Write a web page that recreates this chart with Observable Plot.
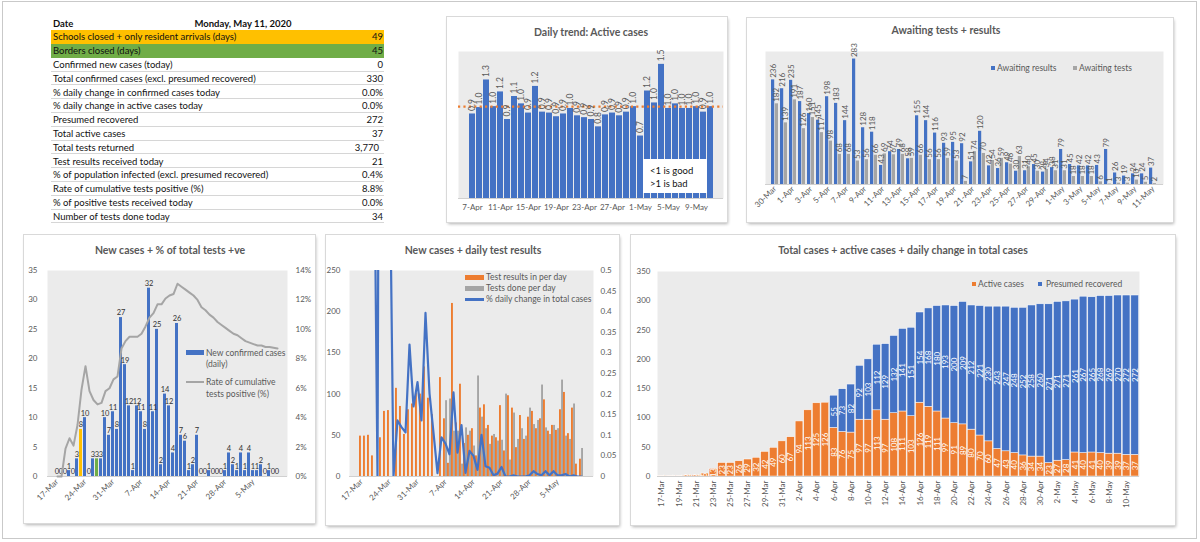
<!DOCTYPE html>
<html>
<head>
<meta charset="utf-8">
<script src="https://cdn.jsdelivr.net/npm/d3@7"></script>
<script src="https://cdn.jsdelivr.net/npm/@observablehq/plot@0.6"></script>
<style>
  html, body { margin: 0; padding: 0; }
  body { width: 1200px; height: 542px; position: relative; overflow: hidden; background: #fff;
         font-family: Lato, "Liberation Sans", sans-serif; color: #595959; }
  .sheet { position: absolute; left: 2px; top: 1px; width: 1195px; height: 538px; box-sizing: border-box; border: 1px solid #c9c9c9; }
  .panel { position: absolute; background: #fff; box-shadow: 0 0 0 1px #d9d9d9, 1px 2px 3px rgba(0,0,0,0.3); }
  .panel svg { position: absolute; left: 0; top: 0; }
  .title { position: absolute; font-weight: 700; font-size: 10.5px; color: #595959; white-space: nowrap; transform: translateX(-50%); line-height: 14px; }
  .legend { position: absolute; font-size: 8.5px; color: #595959; white-space: nowrap; line-height: 11px; }
  .sw { position: absolute; }
  .row { position: absolute; left: 51px; width: 333px; height: 13.8px; line-height: 13.8px; font-size: 9.5px; color: #111; box-sizing: border-box; }
  .row .lab { position: absolute; left: 2px; }
  .row .val { position: absolute; right: 1px; }
  .note { position: absolute; background: #fff; font-size: 9.5px; color: #111; line-height: 13px; padding: 5px 0 0 7px; box-sizing: border-box; }
</style>
</head>
<body>
<div class="sheet"></div>
<script>
// ---------- Data ----------
const days = ["17-Mar","18-Mar","19-Mar","20-Mar","21-Mar","22-Mar","23-Mar","24-Mar","25-Mar","26-Mar","27-Mar","28-Mar","29-Mar","30-Mar","31-Mar",
  "1-Apr","2-Apr","3-Apr","4-Apr","5-Apr","6-Apr","7-Apr","8-Apr","9-Apr","10-Apr","11-Apr","12-Apr","13-Apr","14-Apr","15-Apr",
  "16-Apr","17-Apr","18-Apr","19-Apr","20-Apr","21-Apr","22-Apr","23-Apr","24-Apr","25-Apr","26-Apr","27-Apr","28-Apr","29-Apr","30-Apr",
  "1-May","2-May","3-May","4-May","5-May","6-May","7-May","8-May","9-May","10-May","11-May"];

// New confirmed cases per day
const newCases = [0,0,0,1,0,3,8,10,0,3,3,3,10,7,11,
  8,27,19,12,1,12,11,8,32,11,25,2,14,12,4,26,7,6,1,2,7,0,0,1,0,0,0,1,4,2,
  1,4,1,4,1,1,2,0,1,0,0];
// Rate of cumulative tests positive
const positiveRate = [0,0,0.019,0.026,0.021,0.035,0.059,0.075,0.058,0.052,0.049,0.050,0.058,0.060,0.066,
  0.068,0.087,0.092,0.095,0.095,0.095,0.097,0.102,0.108,0.111,0.117,0.117,0.121,0.123,0.124,
  0.131,0.129,0.127,0.125,0.123,0.120,0.115,0.113,0.110,0.108,0.105,0.103,0.101,0.099,0.097,
  0.096,0.094,0.092,0.091,0.090,0.089,0.089,0.088,0.088,0.0875,0.087];
// Test results received per day
const testResultsIn = [49,49,50,25,0,47,79,80,0,107,85,51,81,88,101,
  100,133,95,75,0,120,70,16,210,65,112,40,50,58,25,83,87,62,49,47,86,31,98,83,35,74,45,72,79,58,
  70,93,55,62,56,81,102,52,83,15,21];
// Tests done per day
const testsDone = [0,0,0,0,0,0,0,0,0,0,0,0,0,0,0,
  0,0,0,0,0,0,92,94,55,55,15,59,55,37,122,72,58,39,51,43,44,100,20,77,45,58,49,83,63,68,
  111,59,51,62,58,117,49,45,88,0,34];
// Daily change in total cases (fraction)
const dailyChange = [null,null,null,1.0,0,3.0,2.0,0.83,0,0.136,0.12,0.107,0.32,0.17,0.229,
  0.136,0.397,0.202,0.106,0.008,0.095,0.08,0.054,0.204,0.058,0.125,0.009,0.062,0.05,0.016,
  0.101,0.025,0.021,0.003,0.007,0.023,0,0,0.003,0,0,0,0.003,0.013,0.006,
  0.003,0.013,0.003,0.013,0.003,0.003,0.006,0,0.003,0,0];
// Active cases and presumed recovered
const activeCases = [1,1,1,2,2,5,13,23,23,26,29,32,42,49,60,
  67,94,113,125,126,83,76,75,97,97,113,97,108,111,103,126,119,111,99,91,89,80,70,60,47,43,40,36,34,34,
  23,27,28,41,40,41,40,39,39,37,37];
const presumedRecovered = [0,0,0,0,0,0,0,0,0,0,0,0,0,0,0,
  0,0,0,0,0,55,73,82,92,103,112,129,132,141,151,154,168,180,193,200,209,212,221,230,243,247,248,252,258,260,
  271,271,271,261,267,265,268,269,270,272,272];

// Awaiting tests + results (30-Mar .. 11-May)
const awaitingDays = days.slice(13);
const awaitingResults = [236,216,235,187,160,145,198,183,144,283,128,118,43,74,79,58,155,144,116,93,95,92,
  51,120,42,36,49,30,31,45,28,38,79,45,42,42,43,79,26,19,24,24,37];
const awaitingTests = [182,139,191,126,151,117,98,68,68,53,56,66,69,67,68,59,66,56,56,59,53,7,
  74,70,54,59,46,63,40,30,34,31,31,18,18,18,6,1,3,3,10,5,2];

// Daily trend of active cases (7-Apr .. 11-May)
const trendDays = days.slice(21);
const activeRatio = [0.92,0.99,1.29,1.00,1.16,0.86,1.11,1.03,0.93,1.22,0.94,0.93,0.89,0.92,0.98,0.90,0.88,0.86,
  0.78,0.91,0.93,0.90,0.94,1.00,0.68,1.17,1.04,1.46,0.98,1.03,0.98,0.98,1.00,0.94,1.00];

// Summary table
const reportDate = "Monday, May 11, 2020";
const summaryLabels = ["Schools closed + only resident arrivals (days)","Borders closed (days)","Confirmed new cases (today)",
  "Total confirmed cases (excl. presumed recovered)","% daily change in confirmed cases today","% daily change in active cases today",
  "Presumed recovered","Total active cases","Total tests returned","Test results received today",
  "% of population infected (excl. presumed recovered)","Rate of cumulative tests positive (%)",
  "% of positive tests received today","Number of tests done today"];
const summaryValues = ["49","45","0","330","0.0%","0.0%","272","37","3,770","21","0.4%","8.8%","0.0%","34"];
const summaryFills = ["#FFC000","#70AD47"];

// Measures: schools closed on 23-Mar, borders closed on 27-Mar
const measureColors = {"23-Mar": "#FFC000", "27-Mar": "#70AD47"};

// ---------- Style ----------
const BLUE = "#4472C4", ORANGE = "#ED7D31", GRAY = "#A5A5A5", PLOTBG = "#ebebeb";
const FONT = "Lato, 'Liberation Sans', sans-serif";
const svgStyle = {background: "transparent", fontFamily: FONT, fontSize: "8px", color: "#595959", overflow: "visible", maxWidth: "none"};

// ---------- Helpers ----------
function makePanel(left, top, w, h) {
  const el = document.createElement("div");
  el.className = "panel";
  Object.assign(el.style, {left: left + "px", top: top + "px", width: w + "px", height: h + "px"});
  document.body.appendChild(el);
  return el;
}
function addTitle(p, text, cx, cy) {
  const t = document.createElement("div");
  t.className = "title"; t.textContent = text;
  t.style.left = cx + "px"; t.style.top = (cy - 7) + "px";
  p.appendChild(t);
}
function addSwatch(p, x, y, w, h, color) {
  const s = document.createElement("div");
  s.className = "sw";
  Object.assign(s.style, {left: x + "px", top: y + "px", width: w + "px", height: h + "px", background: color});
  p.appendChild(s);
}
function addLegendText(p, x, cy, text) {
  const t = document.createElement("div");
  t.className = "legend"; t.textContent = text;
  t.style.left = x + "px"; t.style.top = (cy - 5.5) + "px";
  p.appendChild(t);
}
// band width of one category when the outer padding is half the inner padding
function bandWidth(plotWidth, n, pad) { return plotWidth / n * (1 - pad); }

// ---------- Summary table ----------
{
  const head = document.createElement("div");
  head.className = "row";
  head.style.top = "16.5px";
  head.style.fontWeight = "700";
  head.innerHTML = `<span class="lab">Date</span><span style="position:absolute;left:192px;transform:translateX(-50%)">${reportDate}</span>`;
  document.body.appendChild(head);
  summaryLabels.forEach((lab, i) => {
    const r = document.createElement("div");
    r.className = "row";
    r.style.top = (30.3 + i * 13.8) + "px";
    if (summaryFills[i]) r.style.background = summaryFills[i];
    else r.style.borderBottom = "1px solid #d6d6d6";
    const val = summaryValues[i];
    r.innerHTML = `<span class="lab"></span><span class="val"></span>`;
    r.querySelector(".lab").textContent = lab;
    const v = r.querySelector(".val");
    v.textContent = val;
    if (val.includes(",")) v.style.right = "5px";
    document.body.appendChild(r);
  });
}

// ---------- Daily trend: Active cases ----------
{
  const p = makePanel(447, 17, 280, 205);
  addTitle(p, "Daily trend: Active cases", 144, 15);
  const trend = trendDays.map((d, i) => ({day: d, ratio: activeRatio[i]}));
  p.appendChild(Plot.plot({
    width: 280, height: 205, marginLeft: 11, marginRight: 4, marginTop: 34, marginBottom: 24,
    style: svgStyle,
    x: {domain: trendDays, paddingInner: 0.2, paddingOuter: 0.1, ticks: trendDays.filter((d, i) => i % 4 === 0), tickSize: 0, tickPadding: 6, label: null},
    y: {domain: [0, 1.6], axis: null},
    marks: [
      Plot.frame({fill: PLOTBG, stroke: "none"}),
      Plot.barY(trend, {x: "day", y: "ratio", fill: BLUE}),
      Plot.ruleY([1], {stroke: ORANGE, strokeWidth: 2.4, strokeDasharray: "2.2,3.2"}),
      Plot.text(trend, {x: "day", y: "ratio", text: d => d3.format(".1f")(d.ratio), rotate: -90, textAnchor: "start", dy: -3, fill: "#595959", fontSize: 8.5}),
      Plot.ruleY([0], {stroke: "#d0d0d0"})
    ]
  }));
  const note = document.createElement("div");
  note.className = "note";
  Object.assign(note.style, {left: "196px", top: "142px", width: "64px", height: "34px"});
  note.innerHTML = "&lt;1 is good<br>&gt;1 is bad";
  p.appendChild(note);
}

// ---------- Awaiting tests + results ----------
{
  const p = makePanel(747, 18, 426, 204);
  addTitle(p, "Awaiting tests + results", 199, 12);
  const W = 426 - 18 - 10, pad = 0.18;
  const half = bandWidth(W, awaitingDays.length, pad) / 2;
  const awaiting = awaitingDays.map((d, i) => ({day: d, results: awaitingResults[i], tests: awaitingTests[i]}));
  p.appendChild(Plot.plot({
    width: 426, height: 204, marginLeft: 18, marginRight: 10, marginTop: 33, marginBottom: 38,
    style: svgStyle,
    x: {domain: awaitingDays, paddingInner: pad, paddingOuter: pad / 2, ticks: awaitingDays.filter((d, i) => i % 2 === 0), tickRotate: -45, tickSize: 0, tickPadding: 3, label: null},
    y: {domain: [0, 300], axis: null},
    marks: [
      Plot.frame({fill: PLOTBG, stroke: "none"}),
      Plot.barY(awaiting, {x: "day", y: "results", fill: BLUE, insetRight: half}),
      Plot.barY(awaiting, {x: "day", y: "tests", fill: GRAY, insetLeft: half}),
      Plot.text(awaiting, {x: "day", y: "results", text: "results", rotate: -90, textAnchor: "start", dx: -half / 2, dy: -2, fill: "#595959", fontSize: 8}),
      Plot.text(awaiting, {x: "day", y: "tests", text: "tests", rotate: -90, textAnchor: "start", dx: half / 2, dy: -2, fill: "#595959", fontSize: 8}),
      Plot.ruleY([0], {stroke: "#d0d0d0"})
    ]
  }));
  addSwatch(p, 244, 48, 4, 4, BLUE);
  addLegendText(p, 250, 50, "Awaiting results");
  addSwatch(p, 326, 48, 4, 4, GRAY);
  addLegendText(p, 332, 50, "Awaiting tests");
}

// ---------- New cases + % of total tests +ve ----------
{
  const p = makePanel(24, 235, 291, 288);
  addTitle(p, "New cases + % of total tests +ve", 146, 15);
  const daily = days.map((d, i) => ({day: d, v: newCases[i], rate: positiveRate[i], color: measureColors[d] || BLUE}));
  const dims = {width: 291, height: 288, marginLeft: 23, marginRight: 28, marginTop: 35, marginBottom: 47, style: svgStyle};
  const xOpts = {domain: days, paddingInner: 0.24, paddingOuter: 0.12, label: null};
  p.appendChild(Plot.plot({
    ...dims,
    x: {...xOpts, ticks: days.filter((d, i) => i % 7 === 0), tickRotate: -45, tickSize: 0, tickPadding: 4},
    y: {domain: [0, 35], ticks: [0, 5, 10, 15, 20, 25, 30, 35], tickSize: 0, tickPadding: 10, label: null},
    color: {type: "identity"},
    marks: [
      Plot.frame({fill: PLOTBG, stroke: "none"}),
      Plot.barY(daily, {x: "day", y: "v", fill: "color"}),
      Plot.text(daily, {x: "day", y: "v", text: d => String(d.v), dy: -4.5, fill: "#333", fontSize: 7.5}),
      Plot.ruleY([0], {stroke: "#d0d0d0"})
    ]
  }));
  p.appendChild(Plot.plot({
    ...dims,
    x: {...xOpts, axis: null},
    y: {domain: [0, 0.14], ticks: [0, 0.02, 0.04, 0.06, 0.08, 0.10, 0.12, 0.14], tickFormat: d3.format(".0%"), axis: "right", tickSize: 0, tickPadding: 8, label: null},
    marks: [
      Plot.line(daily, {x: "day", y: "rate", stroke: GRAY, strokeWidth: 2})
    ]
  }));
  addSwatch(p, 162, 115, 18, 5, BLUE);
  addLegendText(p, 182, 118, "New confirmed cases");
  addLegendText(p, 182, 129, "(daily)");
  addSwatch(p, 162, 146, 18, 2, GRAY);
  addLegendText(p, 182, 147, "Rate of cumulative");
  addLegendText(p, 182, 159, "tests positive (%)");
}

// ---------- New cases + daily test results ----------
{
  const p = makePanel(326, 235, 293, 290);
  addTitle(p, "New cases + daily test results", 147, 15);
  const W = 293 - 23 - 26, pad = 0.04;
  const half = bandWidth(W, days.length, pad) / 2;
  const tests = days.map((d, i) => ({day: d, results: testResultsIn[i], done: testsDone[i], change: dailyChange[i]}));
  const dims = {width: 293, height: 290, marginLeft: 23, marginRight: 26, marginTop: 35, marginBottom: 49, style: svgStyle};
  const xOpts = {domain: days, paddingInner: pad, paddingOuter: pad / 2, label: null};
  p.appendChild(Plot.plot({
    ...dims,
    x: {...xOpts, ticks: days.filter((d, i) => i % 7 === 0), tickRotate: -45, tickSize: 0, tickPadding: 4},
    y: {domain: [0, 250], ticks: [0, 50, 100, 150, 200, 250], tickSize: 0, tickPadding: 9, label: null},
    marks: [
      Plot.frame({fill: PLOTBG, stroke: "none"}),
      Plot.barY(tests, {x: "day", y: "results", fill: ORANGE, insetRight: half}),
      Plot.barY(tests, {x: "day", y: "done", fill: GRAY, insetLeft: half}),
      Plot.ruleY([0], {stroke: "#d0d0d0"})
    ]
  }));
  p.appendChild(Plot.plot({
    ...dims,
    x: {...xOpts, axis: null},
    y: {domain: [0, 0.5], ticks: [0, 0.05, 0.1, 0.15, 0.2, 0.25, 0.3, 0.35, 0.4, 0.45, 0.5], tickFormat: d => d === 0 ? "0" : String(+d.toFixed(2)), axis: "right", tickSize: 0, tickPadding: 7, label: null},
    marks: [
      Plot.line(tests, {x: "day", y: "change", stroke: BLUE, strokeWidth: 2.2, clip: true})
    ]
  }));
  addSwatch(p, 139, 40, 19, 4.5, ORANGE);
  addLegendText(p, 160, 42, "Test results in per day");
  addSwatch(p, 139, 51, 19, 4.5, GRAY);
  addLegendText(p, 160, 53, "Tests done per day");
  addSwatch(p, 139, 63, 19, 2.5, BLUE);
  addLegendText(p, 160, 64, "% daily change in total cases");
}

// ---------- Total cases + active cases ----------
{
  const p = makePanel(631, 235, 544, 290);
  addTitle(p, "Total cases + active cases + daily change in total cases", 272, 15);
  const totals = days.flatMap((d, i) => [
    {day: d, series: "Active cases", v: activeCases[i]},
    {day: d, series: "Presumed recovered", v: presumedRecovered[i]}
  ]);
  p.appendChild(Plot.plot({
    width: 544, height: 290, marginLeft: 26, marginRight: 36, marginTop: 36, marginBottom: 49,
    style: svgStyle,
    x: {domain: days, paddingInner: 0.1, paddingOuter: 0.05, ticks: days.filter((d, i) => i % 2 === 0), tickRotate: -90, tickSize: 0, tickPadding: 4, label: null},
    y: {domain: [0, 350], ticks: [0, 50, 100, 150, 200, 250, 300, 350], tickSize: 0, tickPadding: 7, label: null},
    color: {domain: ["Active cases", "Presumed recovered"], range: [ORANGE, BLUE]},
    marks: [
      Plot.frame({fill: PLOTBG, stroke: "none"}),
      Plot.barY(totals, {x: "day", y: "v", z: "series", fill: "series", stroke: "#fff", strokeWidth: 0.5}),
      Plot.text(totals, Plot.stackY({x: "day", y: "v", z: "series", text: d => String(d.v), filter: d => d.v > 0, rotate: -90, fill: "#fff", fontSize: 8})),
      Plot.ruleY([0], {stroke: "#d0d0d0"})
    ]
  }));
  addSwatch(p, 341, 47, 4, 4, ORANGE);
  addLegendText(p, 347, 49, "Active cases");
  addSwatch(p, 407, 47, 4, 4, BLUE);
  addLegendText(p, 415, 49, "Presumed recovered");
}
</script>
</body>
</html>
